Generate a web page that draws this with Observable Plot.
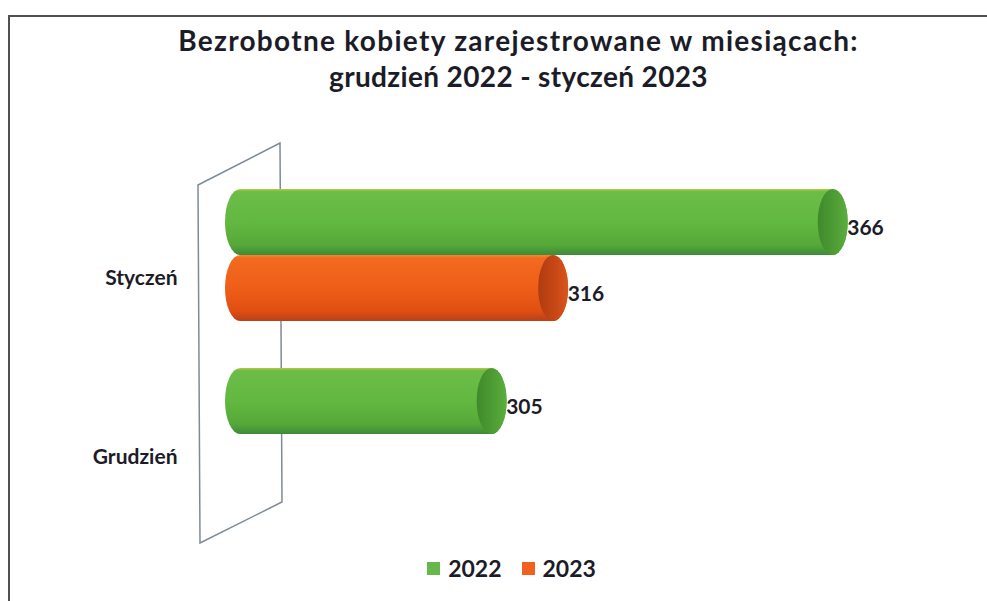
<!DOCTYPE html>
<html><head><meta charset="utf-8">
<script src="https://cdn.jsdelivr.net/npm/d3@7"></script>
<script src="https://cdn.jsdelivr.net/npm/@observablehq/plot@0.6"></script>
<style>
body{margin:0;background:#fff;}
#wrap{position:relative;width:987px;height:601px;overflow:hidden;font-family:Lato,"Open Sans",sans-serif;color:#1c1c28;background:#fff;}
#frame{position:absolute;left:8px;top:15px;right:-5px;bottom:-5px;border-top:2px solid #505050;border-left:2px solid #505050;}
#title{position:absolute;left:40px;width:957px;top:22px;text-align:center;font-weight:bold;font-size:28px;line-height:36px;}
#title .l1{letter-spacing:1.3px;}
#title .l2{letter-spacing:0.35px;}
#chart{position:absolute;left:0;top:100px;}
#legend{position:absolute;top:554px;left:0;width:1023px;display:flex;justify-content:center;align-items:center;font-weight:bold;font-size:23px;}
.item{display:flex;align-items:center;margin:0 10px;}
.sw{width:13px;height:13px;margin-right:8px;}
</style></head>
<body>
<div id="wrap">
  <div id="frame"></div>
  <div id="title"><span class="l1">Bezrobotne kobiety zarejestrowane w miesiącach:</span><br><span class="l2">grudzień 2022 - styczeń 2023</span></div>
  <div id="chart"></div>
  <div id="legend"></div>
</div>
<script>
const months = ["Styczeń", "Grudzień"];
const years = [2022, 2023];
const values2022 = [366, 305];
const values2023 = [316, null];
const xDomain = [260, 380];
const legendColors = ["#66b84a", "#f0601e"];

const rows = [];
months.forEach((m, i) => {
  if (values2022[i] != null) rows.push({month: m, year: 2022, value: values2022[i]});
  if (values2023[i] != null) rows.push({month: m, year: 2023, value: values2023[i]});
});

function barsFor(year) {
  const data = rows.filter(d => d.year === year);
  return [
    Plot.barX(data, {x1: () => xDomain[0], x2: "value", y: "year", fy: "month",
      fill: `url(#body${year})`, rx: 15, ry: 40, insetLeft: -15, insetRight: -15}),
    Plot.barX(data, {x1: "value", x2: "value", y: "year", fy: "month",
      fill: `url(#cap${year})`, rx: 15, ry: 40, insetLeft: -15, insetRight: -15})
  ];
}

const chart = Plot.plot({
  width: 987, height: 445,
  marginLeft: 240, marginRight: 76, marginTop: 88, marginBottom: 44,
  style: {background: "transparent", color: "#1c1c28", fontFamily: "Lato, 'Open Sans', sans-serif"},
  x: {domain: xDomain, axis: null},
  y: {domain: years, axis: null, padding: 0},
  fy: {domain: months, paddingInner: 0.256, paddingOuter: 0, axis: null},
  marks: [
    ...barsFor(2022),
    ...barsFor(2023),
    Plot.text(rows, {x: "value", y: "year", fy: "month", text: d => String(d.value),
      textAnchor: "start", dx: 14, dy: 6, fontSize: 21, fontWeight: "bold", fill: "#1c1c28"}),
    Plot.axisFy({anchor: "left", tickSize: 0, tickPadding: 63, dy: 23, fontSize: 21,
      fontWeight: "bold", label: null})
  ]
});

(function decorate() {
  const svg = d3.select(chart);
  const defs = svg.insert("defs", ":first-child");
  function vgrad(id, stops) {
    const g = defs.append("linearGradient").attr("id", id).attr("x1", 0).attr("y1", 0).attr("x2", 0).attr("y2", 1);
    stops.forEach(([o, c]) => g.append("stop").attr("offset", o).attr("stop-color", c));
  }
  function hgrad(id, stops) {
    const g = defs.append("linearGradient").attr("id", id).attr("x1", 0).attr("y1", 0).attr("x2", 1).attr("y2", 0);
    stops.forEach(([o, c]) => g.append("stop").attr("offset", o).attr("stop-color", c));
  }
  vgrad("body2022", [[0, "#b9c93c"], [0.04, "#6cbd48"], [0.5, "#62b840"], [0.85, "#56a838"], [1, "#3d8a3a"]]);
  vgrad("body2023", [[0, "#f7882c"], [0.05, "#f26a20"], [0.5, "#ef5e18"], [0.85, "#e04f12"], [1, "#b8401a"]]);
  hgrad("cap2022", [[0, "#3f8a2c"], [0.6, "#4f9e36"], [1, "#5aae3e"]]);
  hgrad("cap2023", [[0, "#b03c10"], [0.6, "#c84816"], [1, "#d9561c"]]);

  const xs = chart.scale("x");
  const fys = chart.scale("fy");
  const x0 = xs.apply(xDomain[0]);
  const bw = fys.bandwidth;
  const yTop = fys.apply(months[0]);
  const yBottom = fys.apply(months[months.length - 1]) + bw;
  svg.insert("path", "g")
    .attr("d", `M${x0 - 42},${yTop - 3}L${x0 + 40},${yTop - 45}L${x0 + 42},${yBottom + 2}L${x0 - 40},${yBottom + 43}Z`)
    .attr("fill", "none").attr("stroke", "#7d8b96").attr("stroke-width", 1.5);
})();

document.getElementById("chart").appendChild(chart);

const legend = d3.select("#legend");
years.forEach((y, i) => {
  const it = legend.append("div").attr("class", "item");
  it.append("div").attr("class", "sw").style("background", legendColors[i]);
  it.append("span").text(String(y));
});
</script>
</body></html>
